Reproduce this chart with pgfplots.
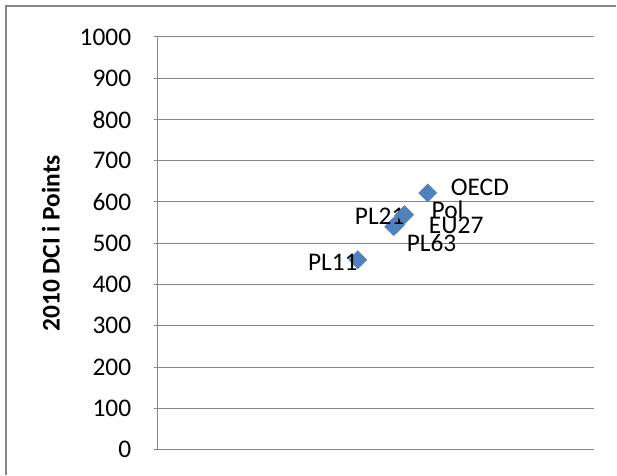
\documentclass[border=0pt]{standalone}
\usepackage{pgfplots}
\pgfplotsset{compat=1.18}
\usepackage{fontspec}
\setmainfont{Carlito}
\definecolor{gridgray}{HTML}{868686}
\definecolor{mblue}{HTML}{4F81BD}
\begin{document}
\fontsize{25.5}{30}\selectfont
\begin{tikzpicture}[x=1bp,y=1bp]
\path (-158,-25) rectangle (459,450);
\draw[gridgray, line width=1.2bp] (-152,-25) -- (-152,444) -- (459,444);
\begin{axis}[
  at={(0,0)}, anchor=south west,
  scale only axis, width=437bp, height=413bp,
  xmin=0, xmax=1000, ymin=0, ymax=1000,
  xtick=\empty,
  ytick distance=100,
  axis x line*=bottom, axis y line*=left,
  axis line style={gridgray, line width=1.2bp, -},
  ymajorgrids, grid style={gridgray, line width=1bp},
  tick align=outside, major tick length=4bp,
  tick style={gridgray, line width=1bp},
  /pgf/number format/assume math mode=true,
  /pgf/number format/1000 sep={},
  tick label style={font=\fontsize{25.5}{30}\selectfont, black},
  yticklabel style={xshift=-14bp},
  ylabel={\bfseries 2010 DCI i Points},
  every axis y label/.style={at={(axis description cs:-0.245,0.5)}, rotate=90, anchor=center, font=\fontsize{25.5}{30}\selectfont},
  clip=false,
  every node near coord/.append style={font=\fontsize{25.5}{30}\selectfont, black, inner sep=0pt},
]
\addplot[only marks, mark=square*, mark size=6.4bp, mark options={rotate=45, fill=mblue, draw=mblue},
  nodes near coords={PL11}, every node near coord/.append style={anchor=east, xshift=0bp, yshift=-3bp}]
  coordinates {(458,460)};
\addplot[only marks, mark=square*, mark size=6.4bp, mark options={rotate=45, fill=mblue, draw=mblue},
  nodes near coords={PL63}, every node near coord/.append style={anchor=west, xshift=13bp, yshift=-16bp}]
  coordinates {(540,540)};
\addplot[only marks, mark=square*, mark size=6.4bp, mark options={rotate=45, fill=mblue, draw=mblue},
  nodes near coords={EU27}, every node near coord/.append style={anchor=west, xshift=33bp, yshift=-1bp}]
  coordinates {(545,545)};
\addplot[only marks, mark=square*, mark size=6.4bp, mark options={rotate=45, fill=mblue, draw=mblue},
  nodes near coords={PL21}, every node near coord/.append style={anchor=east, xshift=1bp, yshift=-1bp}]
  coordinates {(563,567)};
\addplot[only marks, mark=square*, mark size=6.4bp, mark options={rotate=45, fill=mblue, draw=mblue},
  nodes near coords={Pol}, every node near coord/.append style={anchor=west, xshift=27bp, yshift=5bp}]
  coordinates {(565,569)};
\addplot[only marks, mark=square*, mark size=6.4bp, mark options={rotate=45, fill=mblue, draw=mblue},
  nodes near coords={OECD}, every node near coord/.append style={anchor=west, xshift=23bp, yshift=6bp}]
  coordinates {(618,622)};
\end{axis}
\end{tikzpicture}
\end{document}
